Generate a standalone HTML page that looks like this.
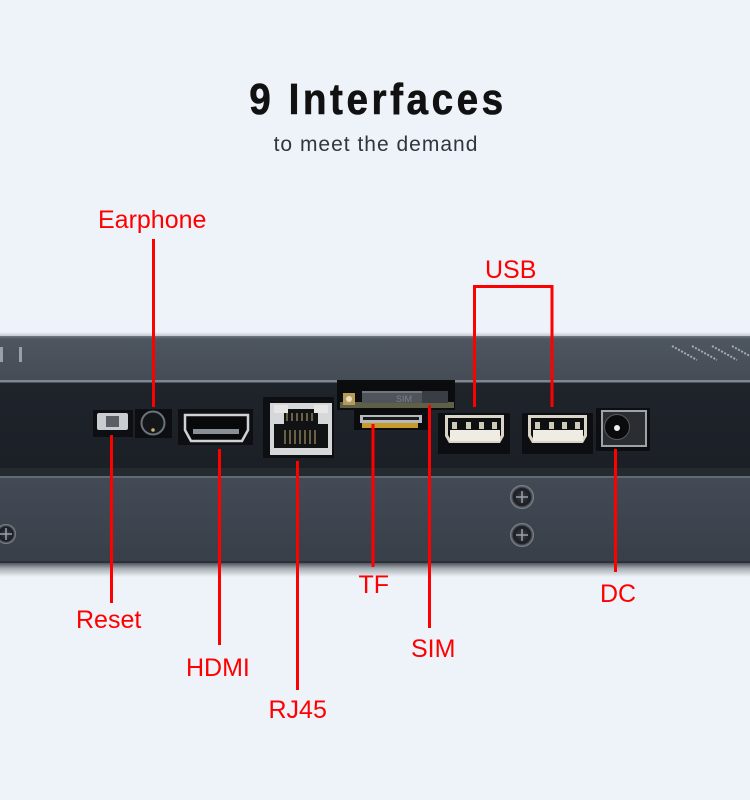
<!DOCTYPE html>
<html><head><meta charset="utf-8"><style>
html,body{margin:0;padding:0;background:#eef2f9;}
svg{display:block;}
</style></head><body>
<svg width="750" height="800" viewBox="0 0 750 800" xmlns="http://www.w3.org/2000/svg">
<defs>
<linearGradient id="top" x1="0" y1="0" x2="0" y2="1">
<stop offset="0" stop-color="#59616b"/><stop offset="0.1" stop-color="#4d555f"/><stop offset="1" stop-color="#454c56"/>
</linearGradient>
<linearGradient id="front" x1="0" y1="0" x2="0" y2="1">
<stop offset="0" stop-color="#1f242b"/><stop offset="1" stop-color="#1b1f26"/>
</linearGradient>
<linearGradient id="plate" x1="0" y1="0" x2="0" y2="1">
<stop offset="0" stop-color="#434a55"/><stop offset="1" stop-color="#383f49"/>
</linearGradient>
<linearGradient id="shadow" x1="0" y1="0" x2="0" y2="1">
<stop offset="0" stop-color="#50565e"/><stop offset="0.4" stop-color="#a9aeb5"/><stop offset="1" stop-color="#eef2f9"/>
</linearGradient>
<linearGradient id="topshadow" x1="0" y1="0" x2="0" y2="1">
<stop offset="0" stop-color="#eef2f9"/><stop offset="1" stop-color="#b9bec6"/>
</linearGradient>
<radialGradient id="screw" cx="0.5" cy="0.5" r="0.5">
<stop offset="0" stop-color="#3a3f46"/><stop offset="0.7" stop-color="#1a1d22"/><stop offset="1" stop-color="#8a9098"/>
</radialGradient>
</defs>

<rect width="750" height="800" fill="#eef2f9"/>

<!-- title -->
<g transform="translate(378,114) scale(0.88,1)">
<text x="0" y="0" text-anchor="middle" font-family="Liberation Sans, Arial, sans-serif" font-weight="bold" font-size="44" letter-spacing="4" fill="#111111" stroke="#111111" stroke-width="0.6">9 Interfaces</text>
</g>
<text x="376" y="151" text-anchor="middle" font-family="Liberation Sans, Arial, sans-serif" font-size="21" letter-spacing="1" fill="#30363d">to meet the demand</text>

<!-- device body -->
<rect x="0" y="332" width="750" height="5" fill="url(#topshadow)"/>
<rect x="0" y="336" width="750" height="45" fill="url(#top)"/>
<rect x="0" y="336" width="750" height="1.5" fill="#6c737c"/>
<rect x="0" y="380" width="750" height="2.5" fill="#7f868f"/>
<rect x="0" y="382.5" width="750" height="86" fill="url(#front)"/>
<rect x="0" y="468" width="750" height="8" fill="#252a31"/>
<rect x="0" y="476" width="750" height="2" fill="#616973"/>
<rect x="0" y="478" width="750" height="84" fill="url(#plate)"/>
<rect x="0" y="561" width="750" height="2" fill="#2c3139"/>
<rect x="0" y="563" width="750" height="14" fill="url(#shadow)"/>

<!-- vents left -->
<rect x="0" y="347" width="3" height="15" fill="#9aa0a8"/>
<rect x="19" y="347" width="3" height="15" fill="#9aa0a8"/>
<!-- vents right -->
<g stroke="#a5abb3" stroke-width="2" stroke-dasharray="2 1.5">
<line x1="672" y1="346" x2="697" y2="360"/>
<line x1="692" y1="346" x2="717" y2="360"/>
<line x1="712" y1="346" x2="737" y2="360"/>
<line x1="732" y1="346" x2="757" y2="360"/>
</g>

<!-- Reset -->
<rect x="93" y="410" width="40" height="27" fill="#0d0f12"/>
<rect x="97" y="413" width="31" height="17" rx="2" fill="#c9cdd1"/>
<rect x="106" y="416" width="13" height="11" fill="#5a5f66"/>

<!-- Earphone -->
<rect x="135" y="409" width="37" height="29" fill="#0c0e11"/>
<circle cx="153" cy="423" r="11.5" fill="#141619" stroke="#6d737a" stroke-width="2"/>
<circle cx="153" cy="430" r="1.8" fill="#c8b46a"/>

<!-- HDMI -->
<rect x="178" y="409" width="75" height="36" fill="#0d0f12"/>
<path d="M185,415 H248 V430 L242,441 H191 L185,430 Z" fill="#08090b" stroke="#cfd2d5" stroke-width="2.5"/>
<rect x="193" y="429" width="46" height="5" fill="#8a8f95"/>

<!-- RJ45 -->
<rect x="263" y="397" width="71" height="61" fill="#0d0f12"/>
<rect x="270" y="403" width="62" height="52" fill="#d5d7d9"/>
<rect x="274" y="409" width="54" height="39" fill="#111214"/>
<rect x="274" y="405" width="14" height="8" fill="#e6e6e6"/>
<rect x="314" y="405" width="14" height="8" fill="#e6e6e6"/>
<rect x="274" y="413" width="10" height="11" fill="#d5d7d9"/>
<rect x="318" y="413" width="10" height="11" fill="#d5d7d9"/>
<g stroke="#8a7a55" stroke-width="1.5">
<line x1="287" y1="413" x2="287" y2="421"/><line x1="292" y1="413" x2="292" y2="421"/>
<line x1="297" y1="413" x2="297" y2="421"/><line x1="302" y1="413" x2="302" y2="421"/>
<line x1="307" y1="413" x2="307" y2="421"/><line x1="312" y1="413" x2="312" y2="421"/>
<line x1="285" y1="430" x2="285" y2="444"/><line x1="290" y1="430" x2="290" y2="444"/>
<line x1="295" y1="430" x2="295" y2="444"/><line x1="300" y1="430" x2="300" y2="444"/>
<line x1="305" y1="430" x2="305" y2="444"/><line x1="310" y1="430" x2="310" y2="444"/>
<line x1="315" y1="430" x2="315" y2="444"/>
</g>

<!-- TF / SIM -->
<rect x="337" y="380" width="118" height="30" fill="#0b0c0e"/>
<rect x="340" y="402" width="114" height="6" fill="#5f6048"/>
<rect x="343" y="393" width="12" height="12" fill="#b69a58"/>
<circle cx="349" cy="399" r="3" fill="#e8dcc0"/>
<rect x="362" y="391" width="86" height="12" fill="#4f545b"/>
<rect x="362" y="391" width="86" height="2" fill="#70767d"/>
<rect x="422" y="391" width="26" height="12" fill="#3a3e44"/>
<text x="396" y="402" font-family="Liberation Sans, Arial, sans-serif" font-size="9" fill="#7b8087">SIM</text>
<rect x="354" y="410" width="74" height="20" fill="#0b0c0e"/>
<rect x="360" y="415" width="62" height="8" fill="#b5b8bc"/>
<rect x="363" y="417" width="56" height="3" fill="#1a1b1d"/>
<rect x="362" y="423" width="56" height="5" fill="#c89a2a"/>

<!-- USB 1 -->
<rect x="438" y="413" width="72" height="41" fill="#0c0e11"/>
<path d="M445,415 H504 V436 L500,443 H449 L445,436 Z" fill="#d9d4c6"/>
<path d="M448,418 H501 V435 L498,440 H451 L448,435 Z" fill="#0e0f10"/>
<rect x="450" y="430" width="50" height="11" fill="#efece4"/>
<g fill="#cfc9b8"><rect x="452" y="422" width="5" height="7"/><rect x="466" y="422" width="5" height="7"/><rect x="479" y="422" width="5" height="7"/><rect x="492" y="422" width="5" height="7"/></g>

<!-- USB 2 -->
<rect x="522" y="413" width="71" height="41" fill="#0c0e11"/>
<path d="M528,415 H587 V436 L583,443 H532 L528,436 Z" fill="#d9d4c6"/>
<path d="M531,418 H584 V435 L581,440 H534 L531,435 Z" fill="#0e0f10"/>
<rect x="533" y="430" width="50" height="11" fill="#efece4"/>
<g fill="#cfc9b8"><rect x="535" y="422" width="5" height="7"/><rect x="549" y="422" width="5" height="7"/><rect x="562" y="422" width="5" height="7"/><rect x="575" y="422" width="5" height="7"/></g>

<!-- DC -->
<rect x="596" y="408" width="54" height="43" fill="#0c0e11"/>
<rect x="601" y="410" width="46" height="37" fill="#9ea3a8"/>
<rect x="603" y="412" width="42" height="33" fill="#2a2d31"/>
<circle cx="617" cy="427" r="12.5" fill="#0a0b0c" stroke="#555a60" stroke-width="1"/>
<circle cx="617" cy="428" r="3" fill="#f0f0f0"/>

<!-- screws -->
<g>
<circle cx="522" cy="497" r="12" fill="url(#screw)"/>
<path d="M516,497 H528 M522,491 V503" stroke="#9aa1a9" stroke-width="1.5"/>
<circle cx="522" cy="535" r="12" fill="url(#screw)"/>
<path d="M516,535 H528 M522,529 V541" stroke="#9aa1a9" stroke-width="1.5"/>
<circle cx="6" cy="534" r="10" fill="url(#screw)"/>
<path d="M0,534 H12 M6,528 V540" stroke="#9aa1a9" stroke-width="1.5"/>
</g>

<!-- red connectors -->
<g stroke="#ff0000" stroke-width="3" fill="none">
<line x1="153.5" y1="239" x2="153.5" y2="407"/>
<path d="M474.5,407 V286.5 H552 V407"/>
<line x1="111.5" y1="435" x2="111.5" y2="603"/>
<line x1="219.5" y1="449" x2="219.5" y2="645"/>
<line x1="297.5" y1="461" x2="297.5" y2="690"/>
<line x1="373" y1="424" x2="373" y2="567"/>
<line x1="429.5" y1="405" x2="429.5" y2="628"/>
<line x1="615.5" y1="449" x2="615.5" y2="572"/>
</g>

<!-- labels -->
<g font-family="Liberation Sans, Arial, sans-serif" font-size="25" fill="#ff0000">
<text x="98" y="228">Earphone</text>
<text x="485" y="278">USB</text>
<text x="76" y="628">Reset</text>
<text x="186" y="676">HDMI</text>
<text x="268.5" y="718">RJ45</text>
<text x="358.5" y="593">TF</text>
<text x="411" y="657">SIM</text>
<text x="600" y="602">DC</text>
</g>
</svg>
</body></html>
